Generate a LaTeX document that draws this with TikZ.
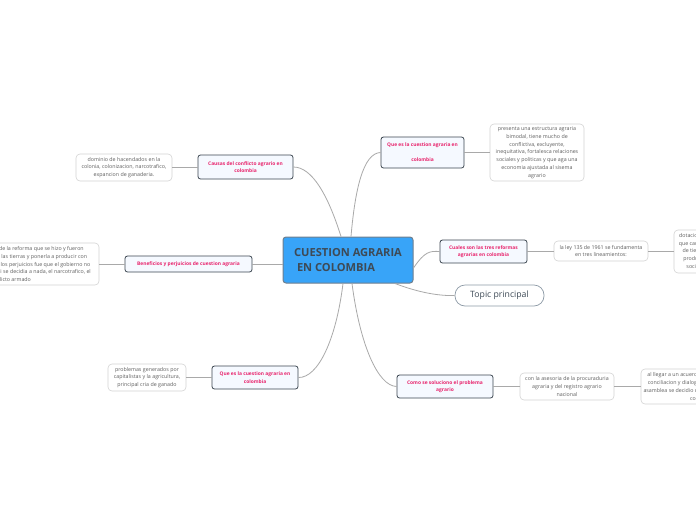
\documentclass[tikz,border=0pt]{standalone}
\usepackage{fontspec}
\setmainfont{Open Sans}
\definecolor{cblue}{HTML}{38A4F8}
\definecolor{cbord}{HTML}{6F7F8E}
\definecolor{ctitle}{HTML}{3E4A56}
\definecolor{cdark}{HTML}{3C4650}
\definecolor{cfill}{HTML}{F5F9FF}
\definecolor{cpink}{HTML}{E8246C}
\definecolor{cdesc}{HTML}{D4D4D4}
\definecolor{ctext}{HTML}{5E5E5E}
\definecolor{cline}{HTML}{A9A9A9}
\tikzset{
  childbox/.style={draw=cdark, fill=cfill, rounded corners=2.5pt, line width=0.8pt, text=cpink,
    font=\bfseries\fontsize{4.9}{7.5}\selectfont, align=center, inner sep=0pt},
  descbox/.style={draw=cdesc, fill=white, rounded corners=4pt, line width=0.6pt, text=ctext,
    font=\fontsize{5.3}{7.8}\selectfont, align=center, inner sep=0pt},
  conn/.style={draw=cline, line width=0.8pt}
}
\begin{document}
\begin{tikzpicture}[x=1pt,y=-1pt]
\useasboundingbox (0,0) rectangle (696,520);
\fill[white] (0,0) rectangle (696,520);

% central
\node[draw=cbord, fill=cblue, rounded corners=3pt, line width=1pt, minimum width=130pt, minimum height=46pt,
  inner sep=0pt, text=ctitle, font=\bfseries\fontsize{11.1}{15.5}\selectfont, align=left] (c) at (348,260)
  {CUESTION AGRARIA\\\ EN COLOMBIA};

% children
\node[childbox, minimum width=83pt, minimum height=31pt] (q1) at (422.5,152.5)
  {Que es la cuestion agraria en\\[0pt]\\colombia};
\node[childbox, minimum width=95pt, minimum height=24pt] (ca) at (245.5,167)
  {Causas del conflicto agrario en\\colombia};
\node[childbox, minimum width=127pt, minimum height=16pt] (be) at (188.5,264)
  {Beneficios y perjuicios de cuestion agraria};
\node[childbox, minimum width=87pt, minimum height=23pt] (cu) at (483.5,251.5)
  {Cuales son las tres reformas\\agrarias en colombia};
\node[childbox, minimum width=86pt, minimum height=23pt] (q2) at (255,377.5)
  {Que es la cuestion agraria en\\colombia};
\node[childbox, minimum width=96pt, minimum height=23pt] (co) at (445,386.5)
  {Como se soluciono el problema\\agrario};
\node[draw=cbord!80, fill=white, rounded corners=10pt, line width=0.7pt, minimum width=89pt, minimum height=21pt,
  inner sep=0pt, text=ctitle, font=\fontsize{8.7}{10}\selectfont] (tp) at (499.5,295.5) {Topic principal};

% descriptions
\node[descbox, minimum width=94pt, minimum height=57pt] (d1) at (537,152.5)
  {presenta una estructura agraria\\bimodal, tiene mucho de\\conflictiva, excluyente,\\inequitativa, fortalesca relaciones\\sociales y politicas y que aga una\\economia ajustada al sisema\\agrario};
\node[descbox, minimum width=96pt, minimum height=27pt] (d2) at (124,167.5)
  {dominio de hacendados en la\\colonia, colonizacion, narcotrafico,\\expancion de ganaderia.};
\node[descbox, minimum width=178pt, minimum height=42pt] (d3) at (10,264)
  {Los beneficios fueron los de la reforma que se hizo y fueron\\repartidas equitativamente las tierras y ponerla a producir con\\tecnologia y herramientas, y los perjuicios fue que el gobierno no\\ni se hizo cargo del campo, ni se decidia a nada, el narcotrafico, el\\conflicto armado};
\node[descbox, minimum width=94pt, minimum height=20pt] (d4) at (601,251)
  {la ley 135 de 1961 se fundamenta\\en tres lineamientos:};
\node[descbox, minimum width=92pt, minimum height=43pt] (d5) at (720,251.5)
  {dotacion de tierras a campesinos\\que carecian de ellas, adecuacion\\de tierras para la produccion y\\produccion agraria y servicios\\sociales a los campesinos y};
\node[descbox, minimum width=78pt, minimum height=27pt] (d6) at (147,377.5)
  {problemas generados por\\capitalistas y la agricultura,\\principal cria de ganado};
\node[descbox, minimum width=94pt, minimum height=27pt] (d7) at (567,386.5)
  {con la asesoria de la procuraduria\\agraria y del registro agrario\\nacional};
\node[descbox, minimum width=122pt, minimum height=35pt] (d8) at (702,386.5)
  {al llegar a un acuerdo por medio de la ley de\\conciliacion y dialogo entre todos ellos en la\\asamblea se decidio dar fin a todos los grandes\\conflictos};

% connectors from central
\draw[conn] ([xshift=3pt]c.north) .. controls (355,190) and (363,153) .. (q1.west);
\draw[conn] ([xshift=-7pt]c.north) .. controls (328,195) and (312,167) .. (ca.east);
\draw[conn] (c.west |- be.east) -- (be.east);
\draw[conn] ([yshift=-8pt]c.east) .. controls (425,251) and (430,251) .. (cu.west);
\draw[conn] ([xshift=47pt]c.south) .. controls (420,293) and (440,296) .. (tp.west);
\draw[conn] ([xshift=-5pt]c.south) .. controls (336,340) and (318,378) .. (q2.east);
\draw[conn] ([xshift=4pt]c.south) .. controls (360,345) and (378,386) .. (co.west);

% child to description
\draw[conn] (q1.east) -- (d1.west |- q1.east);
\draw[conn] (ca.west) -- (d2.east |- ca.west);
\draw[conn] (be.west) -- (d3.east |- be.west);
\draw[conn] (cu.east) -- (d4.west |- cu.east);
\draw[conn] (d4.east) -- (d5.west |- d4.east);
\draw[conn] (q2.west) -- (d6.east |- q2.west);
\draw[conn] (co.east) -- (d7.west |- co.east);
\draw[conn] (d7.east) -- (d8.west |- d7.east);
\end{tikzpicture}
\end{document}
